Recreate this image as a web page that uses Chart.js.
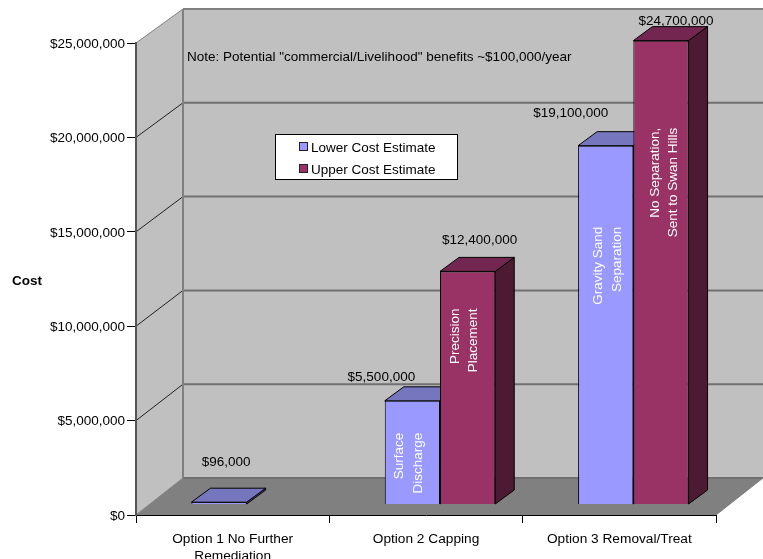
<!DOCTYPE html>
<html>
<head>
<meta charset="utf-8">
<style>
html,body{margin:0;padding:0;background:#fff;overflow:hidden}
#wrap{position:relative;width:763px;height:559px}
</style>
<script src="https://cdn.jsdelivr.net/npm/chart.js@4"></script>
</head>
<body>
<div id="wrap"><canvas id="c" width="763" height="559"></canvas></div>
<script>
// ---- data ----
const categories = [["Option 1 No Further", "Remediation"], "Option 2 Capping", "Option 3 Removal/Treat"];
const lowerLabel = "Lower Cost Estimate";
const upperLabel = "Upper Cost Estimate";
const lowerCost = [96000, 5500000, 19100000];
const upperCost = [null, 12400000, 24700000];
const lowerNotes = [null, ["Surface", "Discharge"], ["Gravity Sand", "Separation"]];
const upperNotes = [null, ["Precision", "Placement"], ["No Separation,", "Sent to Swan Hills"]];
const yAxisTitle = "Cost";
const noteText = 'Note: Potential "commercial/Livelihood" benefits ~$100,000/year';
const axisMax = 25000000;
const axisStep = 5000000;

// ---- style / placement ----
const FONT = '"Liberation Sans", Arial, sans-serif';
const FS = 13.5;
const LOWER = '#9999FF', LOWER_TOP = '#7676BF', LOWER_SIDE = '#4D4D80';
const UPPER = '#993366', UPPER_TOP = '#732650', UPPER_SIDE = '#4D1A33';
const WALL = '#C0C0C0', FLOOR = '#808080', EDGE = '#808080', GRID = '#707070';
const WALL_DX = 47, WALL_DY = -37;   // depth of the box
const BAR_DX = 14, BAR_DY = -11;     // bars stand a little inside the box
const SIDE_DX = 19, SIDE_DY = -14;   // depth of a bar
// value-label offsets from the bar's front-top centre
const lowerLabelOffsets = [[7, -40], [-31, -24], [-35, -32]];
const upperLabelOffsets = [null, [12, -31], [15, -19]];
// in-bar text: distance below bar top, and x of each line from bar centre
const lowerNoteOffsets = [null, {top: 32, xs: [-13.5, 5.5]}, {top: 81, xs: [-7, 12]}];
const upperNoteOffsets = [null, {top: 37, xs: [-12.5, 5.5]}, {top: 87, xs: [-5.5, 12.5]}];

const money = v => '$' + Number(v).toLocaleString('en-US');

function poly(ctx, pts, fill, stroke, lw) {
  ctx.beginPath();
  pts.forEach((p, i) => i ? ctx.lineTo(p[0], p[1]) : ctx.moveTo(p[0], p[1]));
  ctx.closePath();
  if (fill) { ctx.fillStyle = fill; ctx.fill(); }
  if (stroke) { ctx.strokeStyle = stroke; ctx.lineWidth = lw || 1; ctx.stroke(); }
}
function seg(ctx, x0, y0, x1, y1, stroke, lw) {
  ctx.beginPath(); ctx.moveTo(x0, y0); ctx.lineTo(x1, y1);
  ctx.strokeStyle = stroke; ctx.lineWidth = lw; ctx.stroke();
}

const box3d = {
  id: 'box3d',
  beforeDraw(chart) {
    const ctx = chart.ctx, a = chart.chartArea;
    const front = chart.scales.y, back = chart.scales.yBars;
    const L = a.left, R = a.right, B = a.bottom;
    const bx = L + WALL_DX, by0 = back.getPixelForValue(0) + WALL_DY, byT = back.getPixelForValue(axisMax) + WALL_DY;
    ctx.save();
    poly(ctx, [[bx, byT], [R + WALL_DX, byT], [R + WALL_DX, by0], [bx, by0]], WALL);
    poly(ctx, [[L, front.getPixelForValue(axisMax)], [bx, byT], [bx, by0], [L, B]], WALL);
    poly(ctx, [[L, B], [R, B], [R + WALL_DX, by0], [bx, by0]], FLOOR);
    for (let v = axisStep; v <= axisMax; v += axisStep) {
      const fy = front.getPixelForValue(v), y = back.getPixelForValue(v) + WALL_DY;
      seg(ctx, bx, y, R + WALL_DX, y, v === axisMax ? EDGE : GRID, 2);
      seg(ctx, L, fy, bx, y, v === axisMax ? EDGE : '#222', 1);
    }
    seg(ctx, bx, by0, R + WALL_DX, by0, GRID, 2);
    seg(ctx, L, B, bx, by0, EDGE, 1);
    seg(ctx, bx, byT, bx, by0, EDGE, 2);
    seg(ctx, R, B, R + WALL_DX, by0, EDGE, 1);
    ctx.restore();
  },
  beforeDatasetsDraw(chart) {
    // paint back to front: lower series first, so the upper bar hides its side
    const ctx = chart.ctx;
    chart.data.datasets.forEach((ds, i) => {
      const meta = chart.getDatasetMeta(i);
      ctx.save();
      ctx.translate(BAR_DX, BAR_DY);
      meta.data.forEach((el, k) => {
        if (ds.data[k] == null) return;
        const l = el.x - el.width / 2, r = el.x + el.width / 2, t = el.y, b = el.base;
        poly(ctx, [[r, b], [r + SIDE_DX, b + SIDE_DY], [r + SIDE_DX, t + SIDE_DY], [r, t]], ds.sideColor, '#000', 1);
        poly(ctx, [[l, t], [l + SIDE_DX, t + SIDE_DY], [r + SIDE_DX, t + SIDE_DY], [r, t]], ds.topColor, '#000', 1);
      });
      meta.controller.draw();
      ctx.restore();
    });
    return false;
  },
  afterDraw(chart) {
    const ctx = chart.ctx;
    ctx.save();
    ctx.textBaseline = 'middle';
    // value labels
    ctx.fillStyle = '#000';
    ctx.font = FS + 'px ' + FONT;
    ctx.textAlign = 'center';
    [[0, lowerLabelOffsets], [1, upperLabelOffsets]].forEach(([di, offs]) => {
      const ds = chart.data.datasets[di], meta = chart.getDatasetMeta(di);
      meta.data.forEach((el, k) => {
        if (ds.data[k] == null) return;
        ctx.fillText(money(ds.data[k]), el.x + BAR_DX + offs[k][0], el.y + BAR_DY + offs[k][1]);
      });
    });
    // text written up the bars
    ctx.fillStyle = '#fff';
    ctx.textAlign = 'right';
    [[0, lowerNotes, lowerNoteOffsets], [1, upperNotes, upperNoteOffsets]].forEach(([di, notes, offs]) => {
      const meta = chart.getDatasetMeta(di);
      meta.data.forEach((el, k) => {
        if (!notes[k]) return;
        notes[k].forEach((line, n) => {
          ctx.save();
          ctx.translate(el.x + BAR_DX + offs[k].xs[n], el.y + BAR_DY + offs[k].top);
          ctx.rotate(-Math.PI / 2);
          ctx.fillText(line, 0, 0);
          ctx.restore();
        });
      });
    });
    // note
    ctx.fillStyle = '#000';
    ctx.textAlign = 'left';
    ctx.fillText(noteText, 187, 57);
    // axis title
    ctx.font = 'bold ' + FS + 'px ' + FONT;
    ctx.fillText(yAxisTitle, 12, 281);
    // legend
    ctx.fillStyle = '#fff';
    ctx.fillRect(275.5, 134.5, 182, 45);
    ctx.strokeStyle = '#000'; ctx.lineWidth = 1;
    ctx.strokeRect(275.5, 134.5, 182, 45);
    ctx.font = FS + 'px ' + FONT;
    chart.data.datasets.forEach((ds, i) => {
      const y = 148 + i * 22;
      ctx.fillStyle = ds.backgroundColor;
      ctx.fillRect(299, y - 6, 8, 9);
      ctx.strokeStyle = '#222';
      ctx.strokeRect(299.5, y - 5.5, 8, 8);
      ctx.fillStyle = '#000';
      ctx.fillText(ds.label, 311, y);
    });
    ctx.restore();
  }
};

new Chart(document.getElementById('c'), {
  type: 'bar',
  data: {
    labels: categories,
    datasets: [
      { label: lowerLabel, data: lowerCost, backgroundColor: LOWER, topColor: LOWER_TOP, sideColor: LOWER_SIDE,
        borderColor: '#000', borderWidth: 1, yAxisID: 'yBars', clip: false,
        barPercentage: 1, categoryPercentage: 0.5714 },
      { label: upperLabel, data: upperCost, backgroundColor: UPPER, topColor: UPPER_TOP, sideColor: UPPER_SIDE,
        borderColor: '#000', borderWidth: 1, yAxisID: 'yBars', clip: false,
        barPercentage: 1, categoryPercentage: 0.5714 }
    ]
  },
  options: {
    responsive: false,
    animation: false,
    layout: { padding: { top: 43, right: 47, left: 0, bottom: 0 } },
    plugins: { legend: { display: false }, tooltip: { enabled: false }, title: { display: false } },
    scales: {
      x: {
        afterFit: s => { s.height = 44; },
        border: { color: '#000', width: 1 },
        grid: { display: true, offset: true, drawOnChartArea: false, drawTicks: true, tickLength: 8, tickColor: '#000' },
        ticks: { color: '#000', font: { family: FONT, size: 13.7, lineHeight: 1.25 }, maxRotation: 0, autoSkip: false, padding: 8 }
      },
      y: {
        min: 0, max: axisMax,
        afterFit: s => { s.width = 136; },
        border: { color: '#555', width: 2 },
        grid: { display: true, drawOnChartArea: false, drawTicks: true, tickLength: 9, tickColor: '#000' },
        ticks: { color: '#000', font: { family: FONT, size: FS }, stepSize: axisStep, padding: 2, labelOffset: 1, callback: v => money(v) }
      },
      yBars: { display: false, min: 0, max: axisMax * 472 / 469 }
    }
  },
  plugins: [box3d]
});
</script>
</body>
</html>
